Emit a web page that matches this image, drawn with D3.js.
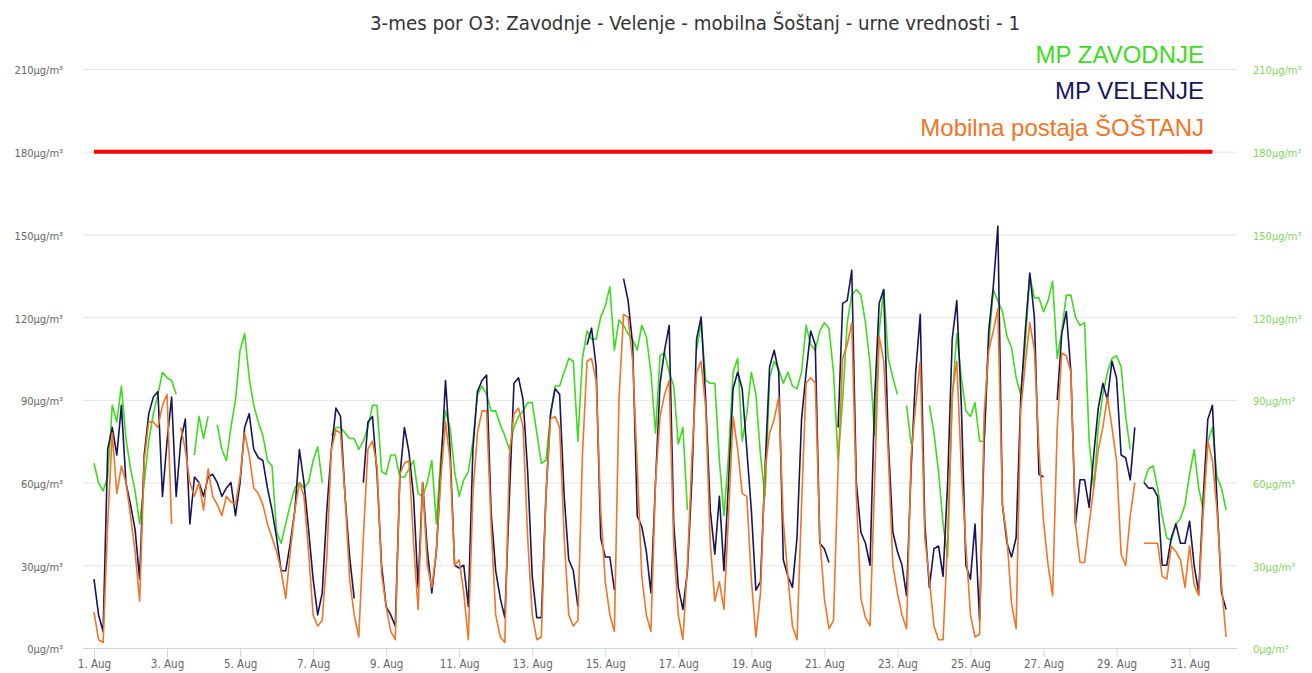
<!DOCTYPE html>
<html><head><meta charset="utf-8">
<script src="https://cdn.jsdelivr.net/npm/d3@7"></script>
<style>
body{margin:0;background:#fff}
svg{display:block}
.lbl{font-family:"DejaVu Sans Condensed","Liberation Sans Narrow","Roboto",sans-serif;}
</style>
</head><body>
<svg id="c" width="1312" height="673"></svg>
<script>
const chartTitle = "3-mes por O3: Zavodnje - Velenje - mobilna Šoštanj - urne vrednosti - 1";
const seriesNames = ["MP ZAVODNJE", "MP VELENJE", "Mobilna postaja ŠOŠTANJ"];
const seriesColors = ["#3ddc1c", "#16165e", "#f27424"];
const startTime = Date.UTC(2019, 7, 1, 0);
const endTime = Date.UTC(2019, 8, 1, 0);
const stepHours = 3;

// MP ZAVODNJE (3-hourly readings, one row per day)
const zavodnje = [
  67,60,57,62,88,82,95,76,
  65,57,45,60,75,85,92,100,
  98,97,92,null,null,null,70,84,
  76,84,null,81,72,68,80,90,
  108,114,98,88,82,77,68,66,
  42,38,45,52,58,60,58,60,
  68,73,60,null,77,80,80,78,
  76,76,72,75,80,88,88,64,
  63,70,70,62,62,65,68,56,
  55,60,68,45,70,86,80,64,
  55,61,64,75,92,95,92,86,
  86,81,77,72,80,84,86,89,
  89,78,67,68,84,95,95,100,
  105,104,75,105,115,112,112,120,
  124,131,108,119,117,114,112,108,
  117,113,100,78,106,107,100,95,
  74,80,50,null,108,118,97,96,
  96,68,48,70,100,105,75,85,
  100,92,70,55,98,104,101,96,
  100,95,94,100,117,110,108,115,
  118,116,100,68,90,118,128,130,
  128,118,103,77,115,130,105,98,
  92,null,88,74,null,null,null,88,
  78,64,45,33,90,114,98,86,
  84,89,75,75,110,130,126,122,
  113,109,98,92,110,135,127,127,
  122,126,133,105,115,128,128,120,
  117,118,75,58,80,92,100,105,
  106,102,84,72,null,null,60,65,
  66,58,48,40,39,45,47,52,
  63,72,58,50,75,80,62,58,
  50
];

// MP VELENJE
const velenje = [
  25,12,6,72,80,70,88,60,
  52,43,25,70,85,91,93,55,
  75,91,55,75,83,45,62,60,
  55,62,63,60,55,58,60,48,
  60,80,85,72,69,68,58,50,
  40,28,28,38,50,72,60,43,
  25,12,20,50,72,87,84,55,
  33,18,null,60,82,84,63,30,
  15,12,8,62,80,71,55,22,
  60,36,20,35,65,97,72,30,
  29,30,15,72,93,97,99,49,
  28,18,11,55,96,98,90,64,
  26,11,11,55,85,94,92,55,
  32,28,15,null,110,116,102,40,
  33,33,21,null,134,126,110,48,
  44,35,20,60,96,108,117,45,
  22,14,28,62,112,120,90,50,
  34,55,28,60,94,100,94,72,
  50,21,24,65,102,108,100,32,
  26,22,40,83,100,115,110,38,
  36,31,null,80,125,126,137,60,
  42,38,30,90,125,130,75,42,
  35,30,19,65,100,121,45,22,
  36,37,26,60,112,126,88,30,
  25,45,10,75,115,131,153,52,
  38,33,40,90,115,136,120,63,
  62,null,null,90,114,122,100,45,
  61,61,51,70,87,96,90,104,
  98,70,69,61,80,null,60,58,
  58,55,30,30,40,45,38,38,
  46,30,20,55,83,88,54,20,
  14
];

// Mobilna postaja ŠOŠTANJ
const sostanj = [
  13,3,2,45,78,56,66,60,
  48,35,17,68,82,82,80,88,
  92,45,null,80,72,60,55,60,
  50,65,55,52,48,55,53,52,
  62,78,70,58,56,52,45,40,
  35,28,18,35,50,60,55,35,
  12,8,10,33,72,79,78,55,
  25,12,4,40,72,75,66,27,
  15,6,3,63,67,68,38,14,
  60,30,22,35,62,82,68,30,
  32,20,3,56,78,86,86,44,
  12,4,2,70,85,87,80,40,
  12,3,4,55,83,84,80,40,
  12,8,10,70,104,105,97,50,
  24,12,6,90,121,120,104,66,
  26,12,6,60,84,92,97,37,
  12,3,30,70,100,104,87,38,
  17,24,14,48,84,72,56,55,
  25,4,20,65,78,83,91,46,
  26,8,3,52,96,98,96,40,
  18,7,10,65,105,110,118,55,
  18,11,8,60,113,104,70,30,
  20,12,7,70,88,104,40,25,
  8,3,3,40,92,104,65,37,
  12,4,5,85,108,115,123,52,
  40,16,7,86,103,118,108,72,
  46,30,19,80,107,106,100,45,
  31,31,45,58,72,80,91,80,
  68,34,30,48,60,null,38,38,
  38,38,26,25,37,35,32,22,
  37,23,19,50,75,68,50,23,
  4
];

const thresholdTimes = [Date.UTC(2019, 7, 1, 0), Date.UTC(2019, 7, 31, 15)];
const thresholdValue = 180;
const yTicks = [0, 30, 60, 90, 120, 150, 180, 210];
const xTickDays = [1, 3, 5, 7, 9, 11, 13, 15, 17, 19, 21, 23, 25, 27, 29, 31];

// ---------- drawing ----------
const svg = d3.select("#c");
const plotL = 83, plotR = 1237, plotT = 69, plotB = 648;

const x = d3.scaleUtc().domain([startTime, endTime]).range([94, 1226.1]);
const y = d3.scaleLinear().domain([0, 210]).range([plotB, plotT]);

// grid
const grid = svg.append("g").attr("transform", `translate(${plotL},0)`)
  .call(d3.axisLeft(y).tickValues(yTicks).tickSize(-(plotR - plotL)).tickFormat(""));
grid.select(".domain").remove();
grid.selectAll("line").attr("stroke", "#e6e6e6");

// left labels
const yl = svg.append("g").attr("transform", `translate(${plotL},0)`)
  .call(d3.axisLeft(y).tickValues(yTicks).tickSize(0).tickPadding(20).tickFormat(d => d + "μg/m³"));
yl.select(".domain").remove();
yl.selectAll("text").attr("class", "lbl").attr("font-size", 11).attr("fill", "#666").attr("dy", "0.45em");

// right labels
const yr = svg.append("g").attr("transform", `translate(${plotR},0)`)
  .call(d3.axisRight(y).tickValues(yTicks).tickSize(0).tickPadding(16).tickFormat(d => d + "μg/m³"));
yr.select(".domain").remove();
yr.selectAll("text").attr("class", "lbl").attr("font-size", 11).attr("fill", "#7fd65c").attr("dy", "0.45em");

// x axis
const xTicks = xTickDays.map(d => new Date(Date.UTC(2019, 7, d)));
const xa = svg.append("g").attr("transform", `translate(0,${plotB})`)
  .call(d3.axisBottom(x).tickValues(xTicks).tickSize(9).tickPadding(2)
    .tickFormat(d => d.getUTCDate() + ". Aug"));
xa.select(".domain").remove();
xa.selectAll("line").attr("stroke", "#ccd6eb");
xa.selectAll("text").attr("class", "lbl").attr("font-size", 11.5).attr("fill", "#666")
  .attr("dy", null).attr("y", 20);
svg.append("line").attr("x1", plotL).attr("x2", plotR).attr("y1", plotB + 0.5).attr("y2", plotB + 0.5)
  .attr("stroke", "#ccd6eb");

// threshold
svg.append("path")
  .datum(thresholdTimes.map(t => [t, thresholdValue]))
  .attr("fill", "none").attr("stroke", "#ff0000").attr("stroke-width", 4)
  .attr("d", d3.line().x(d => x(d[0])).y(d => y(d[1])));

// series
const line = d3.line().defined(d => d[1] != null).x(d => x(d[0])).y(d => y(d[1]));
[zavodnje, velenje, sostanj].forEach((arr, k) => {
  const pts = arr.map((v, i) => [startTime + i * stepHours * 3600000, v]);
  svg.append("path").datum(pts)
    .attr("fill", "none").attr("stroke", seriesColors[k]).attr("stroke-width", 1.6)
    .attr("stroke-linejoin", "round").attr("d", line);
});

// title
svg.append("text").attr("x", 695).attr("y", 30).attr("text-anchor", "middle")
  .attr("class", "lbl").attr("font-size", 20).attr("fill", "#333")
  .attr("textLength", 650).attr("lengthAdjust", "spacingAndGlyphs")
  .text(chartTitle);

// legend
const legY = [63, 99, 136];
seriesNames.forEach((n, k) => {
  svg.append("text").attr("x", 1204).attr("y", legY[k]).attr("text-anchor", "end")
    .attr("font-family", "'Liberation Sans', Arial, sans-serif").attr("font-size", 24)
    .attr("fill", seriesColors[k]).text(n);
});
</script>
</body></html>
